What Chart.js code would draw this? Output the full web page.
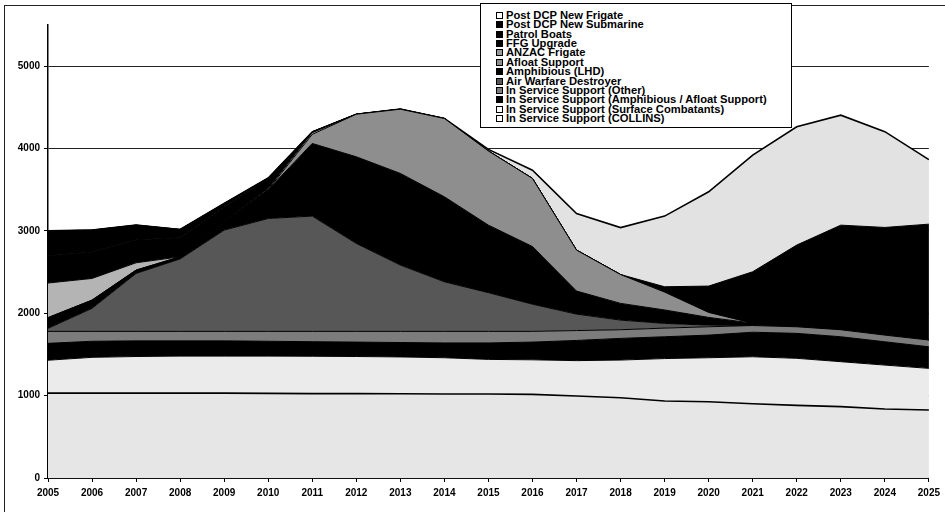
<!DOCTYPE html>
<html>
<head>
<meta charset="utf-8">
<script src="https://cdn.jsdelivr.net/npm/chart.js@4/dist/chart.umd.min.js"></script>
<style>
  html, body { margin: 0; padding: 0; background: #fff; }
  #wrap { position: relative; width: 945px; height: 512px; overflow: hidden; background: #fff; }
  #frame { position: absolute; left: 4px; top: 5px; width: 960px; height: 520px;
           border-left: 1px solid #222; border-top: 1px solid #222; pointer-events: none; }
  #legend { position: absolute; left: 480px; top: 3px; width: 312px; height: 125px;
            border: 1.5px solid #000; background: #fff; box-sizing: border-box;
            padding: 7px 0 0 15px; font-family: "Liberation Sans", Arial, sans-serif;
            font-weight: bold; font-size: 11.2px; color: #000; }
  #legend .item { height: 9.36px; line-height: 9.36px; white-space: nowrap; }
  #legend .sw { display: inline-block; width: 5px; height: 5px; border: 1px solid #000;
                margin-right: 3px; vertical-align: 0px; }
  canvas { position: absolute; left: 0; top: 0; }
</style>
</head>
<body>
<div id="wrap">
  <canvas id="chart" width="945" height="512"></canvas>
  <div id="frame"></div>
  <div id="legend"></div>
</div>
<script>
// Naval spending by project, stacked ($m)
const years = ['2005','2006','2007','2008','2009','2010','2011','2012','2013','2014','2015',
               '2016','2017','2018','2019','2020','2021','2022','2023','2024','2025'];

const collins             = [1030,1030,1030,1030,1030,1028,1025,1025,1022,1020,1019,1015,995,975,934,926,902,882,866,837,825];
const surfaceCombatants   = [400,435,445,450,450,452,453,450,448,440,421,420,430,457,516,534,570,571,546,534,506];
const issAmphAfloat       = [205,195,190,185,185,180,177,175,175,180,200,215,245,263,265,275,298,303,303,283,262];
const issOther            = [145,120,115,115,115,120,125,130,135,140,140,130,120,105,105,101,81,80,85,81,82];
const airWarfareDestroyer = [37,280,704,880,1230,1371,1400,1068,805,602,470,330,200,117,57,20,0,0,0,0,0];
const amphibiousLHD       = [130,100,40,26,100,350,882,1052,1113,1032,820,700,280,203,163,94,29,0,0,0,0];
const afloatSupport       = [0,0,0,0,0,0,110,517,780,951,900,827,497,350,217,60,0,0,0,0,0];
const anzacFrigate        = [420,263,89,0,0,15,20,0,0,0,0,0,0,0,0,0,0,0,0,0,0];
const ffgUpgrade          = [330,320,280,230,180,120,11,0,0,0,0,0,0,0,0,0,0,0,0,0,0];
const patrolBoats         = [303,267,177,102,43,6,0,0,0,0,0,0,0,0,0,0,0,0,0,0,0];
const newSubmarine        = [0,0,0,0,0,0,0,0,0,0,0,0,0,0,65,320,624,992,1270,1307,1407];
const newFrigate          = [0,0,0,0,0,0,0,0,0,0,20,100,445,570,858,1145,1416,1437,1335,1163,783];

const yTicks = [0, 1000, 2000, 3000, 4000, 5000];
const yMax = 5500;

// bottom of the stack first
const series = [
  { label: 'In Service Support (COLLINS)', data: collins, color: '#e6e6e6', key: '#fff', line: 1.6 },
  { label: 'In Service Support (Surface Combatants)', data: surfaceCombatants, color: '#ebebeb', key: '#fff', line: 1 },
  { label: 'In Service Support (Amphibious / Afloat Support)', data: issAmphAfloat, color: '#000000', key: '#000', line: 1 },
  { label: 'In Service Support (Other)', data: issOther, color: '#7c7c7c', key: '#7c7c7c', line: 1 },
  { label: 'Air Warfare Destroyer', data: airWarfareDestroyer, color: '#575757', key: '#575757', line: 1 },
  { label: 'Amphibious (LHD)', data: amphibiousLHD, color: '#000000', key: '#000', line: 1 },
  { label: 'Afloat Support', data: afloatSupport, color: '#8e8e8e', key: '#8e8e8e', line: 1 },
  { label: 'ANZAC Frigate', data: anzacFrigate, color: '#b4b4b4', key: '#9a9a9a', line: 1 },
  { label: 'FFG Upgrade', data: ffgUpgrade, color: '#000000', key: '#000', line: 1 },
  { label: 'Patrol Boats', data: patrolBoats, color: '#000000', key: '#000', line: 1 },
  { label: 'Post DCP New Submarine', data: newSubmarine, color: '#000000', key: '#000', line: 1 },
  { label: 'Post DCP New Frigate', data: newFrigate, color: '#e2e2e2', key: '#fff', line: 1.6 }
];

const datasets = series.map((s, i) => ({
  label: s.label,
  data: s.data,
  backgroundColor: s.color,
  borderColor: '#000',
  borderWidth: s.line,
  fill: i === 0 ? 'origin' : '-1',
  pointRadius: 0,
  tension: 0
}));

// legend lists the top of the stack first
const legend = document.getElementById('legend');
series.slice().reverse().forEach(s => {
  const row = document.createElement('div');
  row.className = 'item';
  const sw = document.createElement('span');
  sw.className = 'sw';
  sw.style.background = s.key;
  row.appendChild(sw);
  row.appendChild(document.createTextNode(s.label));
  legend.appendChild(row);
});

const tickFont = { family: '"Liberation Sans", Arial, sans-serif', size: 10, weight: 'bold' };

new Chart(document.getElementById('chart'), {
  type: 'line',
  data: { labels: years, datasets },
  options: {
    responsive: false,
    animation: false,
    layout: { padding: { left: 0, top: 25, right: 8, bottom: 0 } },
    plugins: { legend: { display: false }, tooltip: { enabled: false } },
    scales: {
      x: {
        offset: false,
        grid: { drawOnChartArea: false, drawTicks: true, tickLength: 4, color: '#000', lineWidth: 1 },
        border: { display: true, color: '#000', width: 1.5 },
        ticks: { color: '#000', font: tickFont, padding: 5, maxRotation: 0, autoSkip: false },
        afterFit: (scale) => { scale.height = 34; }
      },
      y: {
        stacked: true,
        min: 0,
        max: yMax,
        grid: { drawTicks: true, tickLength: 4, lineWidth: 1, color: '#222', tickColor: '#000' },
        border: { display: true, color: '#000', width: 1.5 },
        ticks: { autoSkip: false, color: '#000', font: tickFont, padding: 4, callback: (v) => String(v) },
        afterBuildTicks: (scale) => { scale.ticks = yTicks.map(v => ({ value: v })); },
        afterFit: (scale) => { scale.width = 48; }
      }
    }
  }
});
</script>
</body>
</html>
